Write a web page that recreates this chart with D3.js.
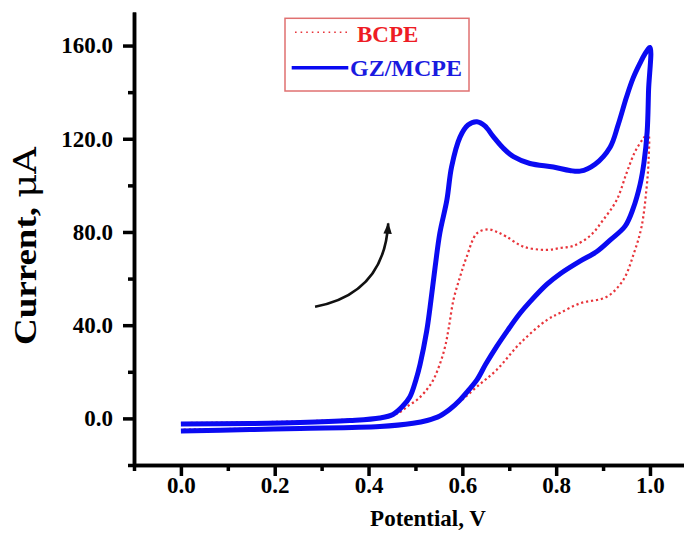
<!DOCTYPE html>
<html>
<head>
<meta charset="utf-8">
<script src="https://cdn.jsdelivr.net/npm/d3@7"></script>
<style>
  html, body { margin: 0; padding: 0; background: #fff; }
  svg { display: block; }
  text { font-family: "Liberation Serif", "Times New Roman", serif; font-weight: bold; }
</style>
</head>
<body>
<svg id="chart" width="684" height="533"></svg>
<script>
// Cyclic voltammograms: potential (V) vs current (µA), forward scan then reverse scan.
const gzPotential = [0.000, 0.147, 0.254, 0.360, 0.424, 0.452, 0.473, 0.488, 0.501, 0.510, 0.524, 0.531, 0.542, 0.552, 0.567, 0.577, 0.595, 0.612, 0.631, 0.648, 0.666, 0.687, 0.709, 0.744, 0.794, 0.829, 0.851, 0.883, 0.915, 0.932, 0.950, 0.964, 0.979, 0.989, 1.000,
  0.997, 0.994, 0.987, 0.979, 0.964, 0.947, 0.915, 0.886, 0.851, 0.808, 0.780, 0.744, 0.723, 0.697, 0.673, 0.650, 0.631, 0.612, 0.595, 0.574, 0.552, 0.525, 0.495, 0.424, 0.254, 0.147, 0.000];
const gzCurrent = [-2.4, -2.2, -1.8, -0.9, 0.2, 1.7, 5.3, 9.2, 16.5, 23.3, 37.5, 47.4, 65.0, 79.5, 93.7, 107.9, 120.7, 125.9, 127.3, 125.5, 120.9, 116.0, 112.3, 109.4, 107.9, 106.4, 106.1, 109.1, 116.4, 125.9, 137.9, 146.0, 152.5, 156.3, 159.2,
  140.9, 123.0, 109.5, 100.5, 90.0, 82.5, 76.5, 71.5, 67.5, 62.0, 57.5, 50.0, 45.1, 37.9, 30.8, 23.3, 16.5, 11.8, 7.9, 4.0, 1.0, -0.9, -2.1, -3.5, -4.3, -4.8, -5.4];

const bcpePotential = [0.000, 0.254, 0.360, 0.435, 0.467, 0.484, 0.503, 0.520, 0.538, 0.552, 0.563, 0.571, 0.581, 0.595, 0.609, 0.631, 0.655, 0.674, 0.694, 0.730, 0.780, 0.808, 0.836, 0.872, 0.900, 0.929, 0.950, 0.968, 0.986, 0.996,
  0.997, 0.993, 0.982, 0.966, 0.943, 0.908, 0.851, 0.808, 0.780, 0.723, 0.673, 0.631, 0.595, 0.563, 0.531, 0.488, 0.424, 0.254, 0.000];
const bcpeCurrent = [-2.0, -1.3, -0.5, 0.4, 2.7, 5.3, 7.9, 11.3, 16.5, 23.3, 30.6, 38.8, 50.8, 60.7, 69.2, 79.4, 81.1, 80.0, 78.0, 73.7, 72.3, 73.1, 74.0, 78.3, 85.1, 93.7, 105.2, 114.4, 120.2, 122.3,
  110.9, 99.4, 82.2, 71.0, 59.4, 52.2, 49.4, 45.2, 42.2, 32.2, 20.8, 13.6, 7.2, 2.3, -0.7, -2.4, -3.3, -4.1, -4.8];

// Scan-direction arrow as a cubic Bézier in data coordinates: start, two control points, tip
const arrowPotential = [0.286, 0.3605, 0.435, 0.442];
const arrowCurrent = [47.9, 50.8, 59.4, 83.7];

// Axis ticks
const xMajorTicks = [0.0, 0.2, 0.4, 0.6, 0.8, 1.0];
const xMinorTicks = [-0.1, 0.1, 0.3, 0.5, 0.7, 0.9];
const yMajorTicks = [0, 40, 80, 120, 160];
const yMinorTicks = [-20, 20, 60, 100, 140];

const legendLabels = ["BCPE", "GZ/MCPE"];

const svg = d3.select("#chart");

const x = d3.scaleLinear().domain([-0.1, 1.08]).range([134, 687.5]);
const y = d3.scaleLinear().domain([-20, 174.4]).range([465, 12]);

const zip = (a, b) => a.map((v, i) => [v, b[i]]);

const line = d3.line()
  .x(d => x(d[0]))
  .y(d => y(d[1]))
  .curve(d3.curveCatmullRom.alpha(0.5));

// Curves
svg.append("path")
  .datum(zip(bcpePotential, bcpeCurrent))
  .attr("d", line)
  .attr("fill", "none")
  .attr("stroke", "#e8353b")
  .attr("stroke-width", 2.2)
  .attr("stroke-dasharray", "2.2 2.8");

svg.append("path")
  .datum(zip(gzPotential, gzCurrent))
  .attr("d", line)
  .attr("fill", "none")
  .attr("stroke", "#0a0af2")
  .attr("stroke-width", 5)
  .attr("stroke-linejoin", "round");

// Arrow
const defs = svg.append("defs");
defs.append("marker")
  .attr("id", "head")
  .attr("viewBox", "0 0 12 10")
  .attr("refX", 11)
  .attr("refY", 5)
  .attr("markerWidth", 4.6)
  .attr("markerHeight", 3.6)
  .attr("markerUnits", "strokeWidth")
  .attr("orient", "auto")
  .append("path")
  .attr("d", "M0,0.5 L12,5 L0,9.5 Z")
  .attr("fill", "#111");

const arrowPath = d3.path();
arrowPath.moveTo(x(arrowPotential[0]), y(arrowCurrent[0]));
arrowPath.bezierCurveTo(
  x(arrowPotential[1]), y(arrowCurrent[1]),
  x(arrowPotential[2]), y(arrowCurrent[2]),
  x(arrowPotential[3]), y(arrowCurrent[3]));
svg.append("path")
  .attr("d", arrowPath.toString())
  .attr("fill", "none")
  .attr("stroke", "#111")
  .attr("stroke-width", 2.6)
  .attr("marker-end", "url(#head)");

// Axes
function styleAxis(g, fontSize) {
  g.select(".domain").attr("stroke", "#000").attr("stroke-width", 3.5);
  g.selectAll(".tick line").attr("stroke", "#000").attr("stroke-width", 3.5);
  g.selectAll(".tick text")
    .attr("fill", "#000")
    .style("font-size", fontSize + "px")
    .style("font-weight", "bold")
    .style("font-family", '"Liberation Serif", "Times New Roman", serif');
}

const xAxisMinor = svg.append("g").attr("transform", "translate(0,465)")
  .call(d3.axisBottom(x).tickValues(xMinorTicks).tickSize(6).tickSizeOuter(0).tickFormat(""));
styleAxis(xAxisMinor, 23);

const xAxis = svg.append("g").attr("transform", "translate(0,465)")
  .call(d3.axisBottom(x).tickValues(xMajorTicks).tickSize(11).tickSizeOuter(0).tickPadding(1).tickFormat(d3.format(".1f")));
styleAxis(xAxis, 23);

const yAxisMinor = svg.append("g").attr("transform", "translate(134,0)")
  .call(d3.axisLeft(y).tickValues(yMinorTicks).tickSize(6).tickSizeOuter(0).tickFormat(""));
styleAxis(yAxisMinor, 23);

const yAxis = svg.append("g").attr("transform", "translate(134,0)")
  .call(d3.axisLeft(y).tickValues(yMajorTicks).tickSize(11).tickSizeOuter(0).tickPadding(10).tickFormat(d3.format(".1f")));
styleAxis(yAxis, 23);

// Axis titles
svg.append("text")
  .attr("x", 428)
  .attr("y", 526)
  .attr("text-anchor", "middle")
  .style("font-size", "23px")
  .text("Potential, V");

const yTitle = svg.append("text")
  .attr("transform", "translate(36,246) rotate(-90)")
  .attr("text-anchor", "middle")
  .attr("textLength", 198)
  .attr("lengthAdjust", "spacingAndGlyphs")
  .style("font-size", "31px");
yTitle.append("tspan").text("Current, ");
yTitle.append("tspan").style("font-weight", "normal").style("font-family", '"DejaVu Serif", serif').text("μA");

// Legend
const legend = svg.append("g");
legend.append("rect")
  .attr("x", 285).attr("y", 18.3)
  .attr("width", 184).attr("height", 72.7)
  .attr("fill", "#fff")
  .attr("stroke", "#e07070")
  .attr("stroke-width", 1.5);

legend.append("line")
  .attr("x1", 295).attr("x2", 348).attr("y1", 32.3).attr("y2", 32.3)
  .attr("stroke", "#e8353b").attr("stroke-width", 1.6)
  .attr("stroke-dasharray", "1.6 4");
legend.append("text")
  .attr("x", 357).attr("y", 41.7)
  .attr("fill", "#ee1c24")
  .style("font-size", "23px")
  .text(legendLabels[0]);

legend.append("line")
  .attr("x1", 291.7).attr("x2", 348.3).attr("y1", 67.7).attr("y2", 67.7)
  .attr("stroke", "#0a0af2").attr("stroke-width", 3.5);
legend.append("text")
  .attr("x", 350).attr("y", 75.7)
  .attr("fill", "#1a1ae0")
  .style("font-size", "24px")
  .text(legendLabels[1]);
</script>
</body>
</html>
